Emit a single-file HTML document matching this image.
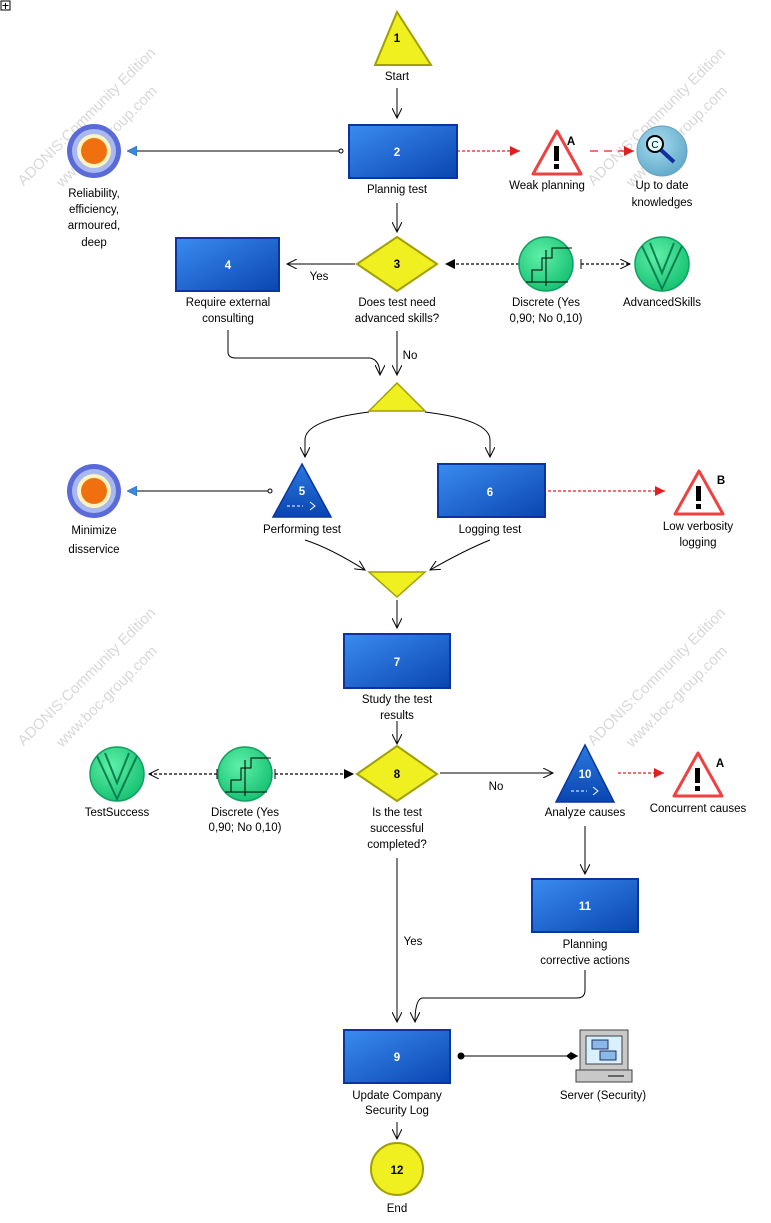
<!DOCTYPE html>
<html><head><meta charset="utf-8"><style>
html,body{margin:0;padding:0;background:#fff}
svg text{font-family:"Liberation Sans",sans-serif;font-size:11.5px;fill:#000;text-anchor:middle}
svg text.wm{fill:#d8d8d8;font-size:15px}
</style></head><body>
<svg width="771" height="1218" viewBox="0 0 771 1218" xmlns="http://www.w3.org/2000/svg">
<defs>
<linearGradient id="bx" x1="0" y1="0" x2="1" y2="1"><stop offset="0" stop-color="#3a8cf0"/><stop offset="1" stop-color="#0a45b0"/></linearGradient>
<linearGradient id="tr" x1="0" y1="0" x2="0" y2="1"><stop offset="0" stop-color="#2a7ae0"/><stop offset="1" stop-color="#0a45b0"/></linearGradient>
<radialGradient id="gr" cx="0.4" cy="0.35" r="0.7"><stop offset="0" stop-color="#5ff0a8"/><stop offset="1" stop-color="#14c070"/></radialGradient>
<radialGradient id="lb" cx="0.4" cy="0.35" r="0.7"><stop offset="0" stop-color="#a8dcf0"/><stop offset="1" stop-color="#5fa8c8"/></radialGradient>
<marker id="oa" markerWidth="12" markerHeight="10" refX="10" refY="5" orient="auto" markerUnits="userSpaceOnUse"><path d="M0,0 L10,5 L0,10" fill="none" stroke="#000" stroke-width="1"/></marker>
<marker id="fa" markerWidth="12" markerHeight="10" refX="10" refY="5" orient="auto" markerUnits="userSpaceOnUse"><path d="M0,0 L10,5 L0,10z" fill="#000"/></marker>
<marker id="ra" markerWidth="12" markerHeight="10" refX="10" refY="5" orient="auto" markerUnits="userSpaceOnUse"><path d="M0,0 L10,5 L0,10z" fill="#e02020"/></marker>
<marker id="ba" markerWidth="12" markerHeight="10" refX="10" refY="5" orient="auto" markerUnits="userSpaceOnUse"><path d="M0,0 L10,5 L0,10z" fill="#3a8ae0" stroke="#205090" stroke-width="0.5"/></marker>
</defs>
<g>
<text class="wm" transform="translate(90,120) rotate(-45)">ADONIS:Community Edition</text>
<text class="wm" transform="translate(110,140) rotate(-45)">www.boc-group.com</text>
<text class="wm" transform="translate(660,120) rotate(-45)">ADONIS:Community Edition</text>
<text class="wm" transform="translate(680,140) rotate(-45)">www.boc-group.com</text>
<text class="wm" transform="translate(90,680) rotate(-45)">ADONIS:Community Edition</text>
<text class="wm" transform="translate(110,700) rotate(-45)">www.boc-group.com</text>
<text class="wm" transform="translate(660,680) rotate(-45)">ADONIS:Community Edition</text>
<text class="wm" transform="translate(680,700) rotate(-45)">www.boc-group.com</text>
</g>
<rect x="1" y="1" width="9" height="9" fill="#fff" stroke="#000"/><path d="M5.5,3v6M2.5,5.5h6" stroke="#000"/>

<g fill="none" stroke="#000" stroke-width="1">
<path d="M397,88V118" marker-end="url(#oa)"/>
<path d="M397,203V232" marker-end="url(#oa)"/>
<path d="M340,151H127" marker-end="url(#ba)"/>
<path d="M355,264H287" marker-end="url(#oa)"/>
<path d="M228,330V352Q228,358 236,358H370Q380,360 380,375" marker-end="url(#oa)"/>
<path d="M397,331V375" marker-end="url(#oa)"/>
<path d="M369,412Q305,420 305,440V457" marker-end="url(#oa)"/>
<path d="M425,412Q490,420 490,440V457" marker-end="url(#oa)"/>
<path d="M268,491H127" marker-end="url(#ba)"/>
<path d="M305,540Q330,548 365,570" marker-end="url(#oa)"/>
<path d="M490,540Q465,550 430,570" marker-end="url(#oa)"/>
<path d="M397,600V628" marker-end="url(#oa)"/>
<path d="M397,721V744" marker-end="url(#oa)"/>
<path d="M440,773H553" marker-end="url(#oa)"/>
<path d="M585,826V874" marker-end="url(#oa)"/>
<path d="M585,970V990Q585,998 577,998H422Q415,1000 415,1022" marker-end="url(#oa)"/>
<path d="M397,858V1022" marker-end="url(#oa)"/>
<path d="M460,1056H578"/>
<path d="M397,1122V1139" marker-end="url(#oa)"/>
</g>
<circle cx="341" cy="151" r="2" fill="#fff" stroke="#000"/>
<circle cx="270" cy="491" r="2" fill="#fff" stroke="#000"/>
<circle cx="461" cy="1056" r="3.5" fill="#000"/>
<path d="M578,1056 l-7,-4 l-5,4 l5,4z" fill="#000"/>
<g fill="none" stroke-width="1.2" stroke-dasharray="3,2">
<path d="M519,264H445" stroke="#000" marker-end="url(#fa)"/>
<path d="M581,264H630" stroke="#000" marker-end="url(#oa)"/>
<path d="M275,774H354" stroke="#000" marker-end="url(#fa)"/>
<path d="M217,774H149" stroke="#000" marker-end="url(#oa)"/>
<path d="M457,151H520" stroke="#e02020" marker-end="url(#ra)"/>
<path d="M548,491H665" stroke="#e02020" marker-end="url(#ra)"/>
<path d="M618,773H664" stroke="#e02020" marker-end="url(#ra)"/>
<path d="M590,151H634" stroke="#e02020" stroke-dasharray="8,6" marker-end="url(#ra)"/>
</g>
<path d="M519,259v10M275,769v10M217,769v10M581,259v10" stroke="#000"/>

<path d="M397,12L431,65H375z" fill="#f0f020" stroke="#a0a000" stroke-width="2"/>
<text x="397" y="42" font-weight="bold">1</text><text x="397" y="80">Start</text>
<rect x="349" y="125" width="108" height="53" fill="url(#bx)" stroke="#0a35a0" stroke-width="2"/>
<text x="397" y="156" style="fill:#fff;font-weight:bold">2</text><text x="397" y="193">Plannig test</text>
<g><ellipse cx="94" cy="151" rx="27" ry="27" fill="#5a6ad8"/><ellipse cx="94" cy="151" rx="22" ry="22" fill="#a8b8f0"/><ellipse cx="94" cy="151" rx="17" ry="17" fill="#fff4c0"/><ellipse cx="94" cy="151" rx="13" ry="13" fill="#f07010"/></g>
<text x="94" y="197">Reliability,</text><text x="94" y="213">efficiency,</text><text x="94" y="229">armoured,</text><text x="94" y="246">deep</text>
<g><ellipse cx="94" cy="491" rx="27" ry="27" fill="#5a6ad8"/><ellipse cx="94" cy="491" rx="22" ry="22" fill="#a8b8f0"/><ellipse cx="94" cy="491" rx="17" ry="17" fill="#fff4c0"/><ellipse cx="94" cy="491" rx="13" ry="13" fill="#f07010"/></g>
<text x="94" y="534">Minimize</text><text x="94" y="553">disservice</text>
<g id="w1"><path d="M557,131L581,174H533z" fill="#fff" stroke="#f04040" stroke-width="3" stroke-linejoin="round"/><rect x="554" y="146" width="5" height="15" fill="#000"/><rect x="554" y="164" width="5" height="5" fill="#000"/></g>
<text x="571" y="145" font-weight="bold">A</text><text x="547" y="189">Weak planning</text>
<use href="#w1" x="142" y="340"/><text x="721" y="484" font-weight="bold">B</text>
<text x="698" y="530">Low verbosity</text><text x="698" y="546">logging</text>
<use href="#w1" x="141" y="622"/><text x="720" y="767" font-weight="bold">A</text><text x="698" y="812">Concurrent causes</text>
<circle cx="662" cy="151" r="25" fill="url(#lb)" stroke="#6aa0c0"/>
<circle cx="655" cy="144" r="8" fill="#dff" stroke="#000" stroke-width="2"/><path d="M661,150L674,162" stroke="#1030a0" stroke-width="4"/><text x="655" y="148" style="font-size:10px">C</text>
<text x="662" y="189">Up to date</text><text x="662" y="206">knowledges</text>
<path d="M397,237L437,264L397,291L357,264z" fill="#f0f020" stroke="#a0a000" stroke-width="2"/>
<text x="397" y="268" font-weight="bold">3</text><text x="397" y="306">Does test need</text><text x="397" y="322">advanced skills?</text>
<text x="319" y="280">Yes</text><text x="410" y="359">No</text>
<rect x="176" y="238" width="103" height="53" fill="url(#bx)" stroke="#0a35a0" stroke-width="2"/>
<text x="228" y="269" style="fill:#fff;font-weight:bold">4</text><text x="228" y="306">Require external</text><text x="228" y="322">consulting</text>
<g id="d1"><circle cx="546" cy="264" r="27" fill="url(#gr)" stroke="#10a060" stroke-width="1.5"/><path d="M526,282H568M532,282V270H542V258H552V248H572M546,250V286" fill="none" stroke="#000"/></g>
<text x="546" y="306">Discrete (Yes</text><text x="546" y="322">0,90; No 0,10)</text>
<use href="#d1" x="-301" y="510"/><text x="245" y="816">Discrete (Yes</text><text x="245" y="831">0,90; No 0,10)</text>
<g id="v1"><circle cx="662" cy="264" r="27" fill="url(#gr)" stroke="#10a060" stroke-width="1.5"/><path d="M642,246L662,289L682,246M650,243L662,273L674,243" fill="none" stroke="#0a8050" stroke-width="2"/></g>
<text x="662" y="306">AdvancedSkills</text>
<use href="#v1" x="-545" y="510"/><text x="117" y="816">TestSuccess</text>
<path d="M397,383L425,411H369z" fill="#f0f020" stroke="#a0a000" stroke-width="1.5"/>
<path d="M369,572H425L397,597z" fill="#f0f020" stroke="#a0a000" stroke-width="1.5"/>
<path d="M302,464L331,517H273z" fill="url(#tr)" stroke="#0a35a0" stroke-width="1.5"/>
<text x="302" y="495" style="fill:#fff;font-weight:bold">5</text><path d="M287,506h16" stroke="#fff" stroke-dasharray="3,2"/><path d="M310,502l5,4l-5,4" fill="none" stroke="#fff"/>
<text x="302" y="533">Performing test</text>
<rect x="438" y="464" width="107" height="53" fill="url(#bx)" stroke="#0a35a0" stroke-width="2"/>
<text x="490" y="496" style="fill:#fff;font-weight:bold">6</text><text x="490" y="533">Logging test</text>
<rect x="344" y="634" width="106" height="54" fill="url(#bx)" stroke="#0a35a0" stroke-width="2"/>
<text x="397" y="666" style="fill:#fff;font-weight:bold">7</text><text x="397" y="703">Study the test</text><text x="397" y="719">results</text>
<path d="M397,746L437,774L397,801L357,774z" fill="#f0f020" stroke="#a0a000" stroke-width="2"/>
<text x="397" y="778" font-weight="bold">8</text><text x="397" y="816">Is the test</text><text x="397" y="832">successful</text><text x="397" y="848">completed?</text>
<text x="496" y="790">No</text><text x="413" y="945">Yes</text>
<path d="M585,745L614,802H556z" fill="url(#tr)" stroke="#0a35a0" stroke-width="1.5"/>
<text x="585" y="778" style="fill:#fff;font-weight:bold">10</text><path d="M571,791h16" stroke="#fff" stroke-dasharray="3,2"/><path d="M593,787l5,4l-5,4" fill="none" stroke="#fff"/>
<text x="585" y="816">Analyze causes</text>
<rect x="532" y="879" width="106" height="53" fill="url(#bx)" stroke="#0a35a0" stroke-width="2"/>
<text x="585" y="910" style="fill:#fff;font-weight:bold">11</text><text x="585" y="948">Planning</text><text x="585" y="964">corrective actions</text>
<rect x="344" y="1030" width="106" height="53" fill="url(#bx)" stroke="#0a35a0" stroke-width="2"/>
<text x="397" y="1061" style="fill:#fff;font-weight:bold">9</text><text x="397" y="1099">Update Company</text><text x="397" y="1114">Security Log</text>
<rect x="580" y="1030" width="48" height="40" fill="#c8c8c8" stroke="#404040"/>
<rect x="586" y="1036" width="36" height="28" fill="#d8f0ff" stroke="#404040"/>
<rect x="592" y="1040" width="16" height="9" fill="#8ab8e8" stroke="#203060"/><rect x="600" y="1051" width="16" height="9" fill="#8ab8e8" stroke="#203060"/>
<rect x="576" y="1070" width="56" height="12" fill="#c8c8c8" stroke="#404040"/><path d="M608,1076h16" stroke="#000"/>
<text x="603" y="1099">Server (Security)</text>
<circle cx="397" cy="1169" r="26" fill="#f0f020" stroke="#a0a000" stroke-width="2"/>
<text x="397" y="1174" font-weight="bold">12</text><text x="397" y="1212">End</text>
</svg>
</body></html>
